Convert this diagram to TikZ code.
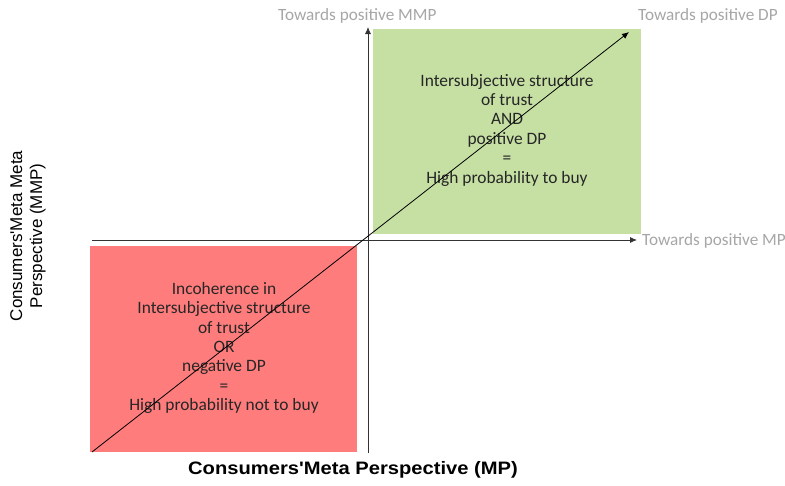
\documentclass[tikz,border=0pt]{standalone}
\usepackage{fontspec}
\setmainfont{Carlito}
\newfontfamily\axisfont{Liberation Sans}
\usetikzlibrary{arrows.meta}
\definecolor{quadgreen}{HTML}{C6E0A4}
\definecolor{quadred}{HTML}{FF7C7C}
\definecolor{towardsgray}{HTML}{A6A6A6}
\tikzset{
  quadtext/.style={align=center,font=\fontsize{17.4}{19.4}\selectfont,text=black!85},
  towards/.style={text=towardsgray,font=\fontsize{17.2}{19}\selectfont,inner sep=0pt},
  axislabel/.style={font=\axisfont\fontsize{17}{20}\selectfont,align=center}
}
\begin{document}
\begin{tikzpicture}[x=1pt,y=-1pt]
\useasboundingbox (0,0) rectangle (785,485);

% quadrants
\fill[quadgreen] (373,29) rectangle (641,234);
\fill[quadred] (90,246) rectangle (357,452);

\node[quadtext] (highbuy) at (507,130) {Intersubjective structure\\of trust\\AND\\positive DP\\=\\High probability to buy};
\node[quadtext] (highnotbuy) at (224,348) {Incoherence in\\Intersubjective structure\\of trust\\OR\\negative DP\\=\\High probability not to buy};

% axes
\coordinate (mmpbottom) at (368,453);
\coordinate (mmptop) at (368,27);
\coordinate (mpleft) at (92,240);
\coordinate (mpright) at (637,240);
\coordinate (dpstart) at (92,452);
\coordinate (dpend) at (629,32);
\draw[-{Latex[length=7pt,width=6pt]},thick,black!80] (mmpbottom) -- (mmptop);
\draw[-{Latex[length=7pt,width=6pt]},thick,black!80] (mpleft) -- (mpright);
\draw[-{Latex[length=7pt,width=6pt]},thick] (dpstart) -- (dpend);

\node[towards,anchor=west] (posmmp) at (278,16) {Towards positive MMP};
\node[towards,anchor=west] (posdp) at (638,16) {Towards positive DP};
\node[towards,anchor=west] (posmp) at (642,241) {Towards positive MP};

\node[axislabel,rotate=90] (mmplabel) at (28,236) {Consumers'Meta Meta\\Perspective (MMP)};
\node[axislabel,font=\axisfont\bfseries\fontsize{18}{20}\selectfont,xscale=1.12] (mplabel) at (353,470) {Consumers'Meta Perspective (MP)};

\end{tikzpicture}
\end{document}
